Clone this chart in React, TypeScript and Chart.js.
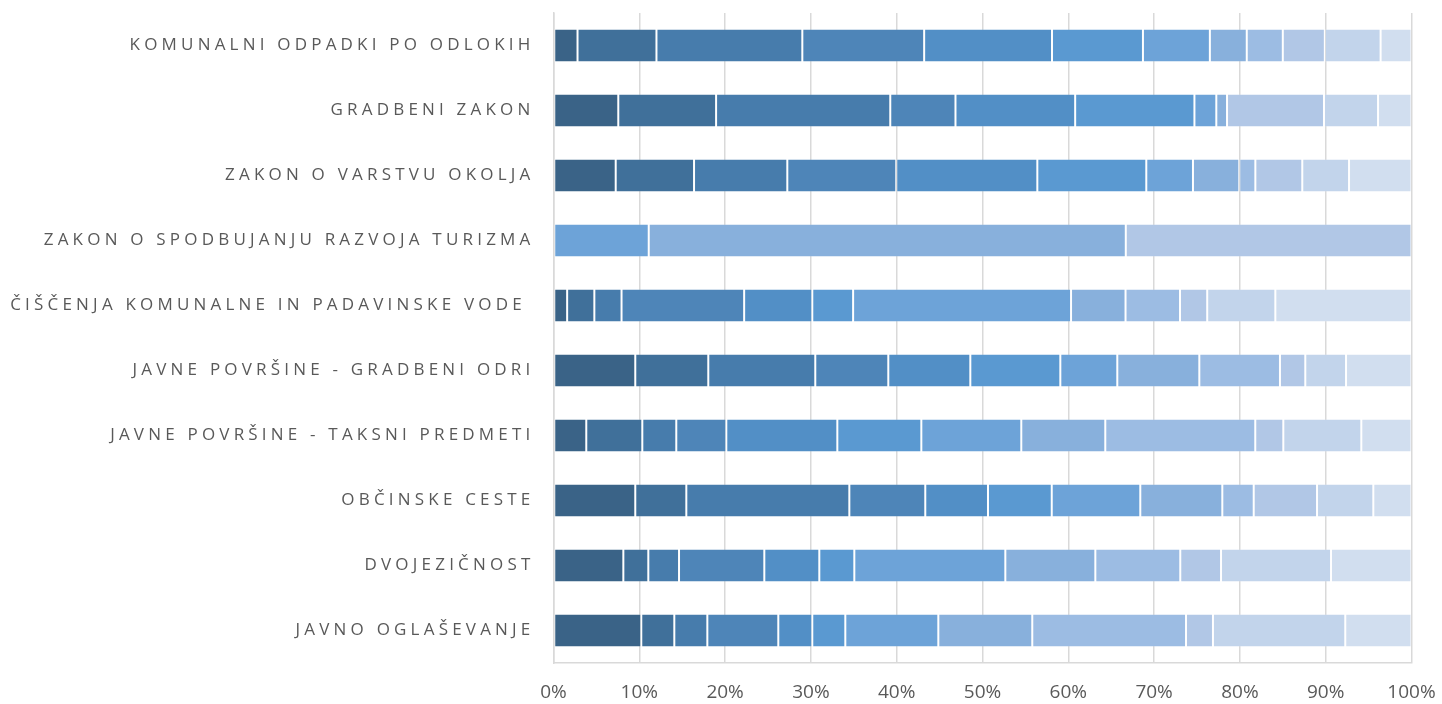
import React, { useEffect, useRef } from "react";
import { Chart, registerables } from "chart.js";

Chart.register(...registerables);

const categories = [
  "KOMUNALNI ODPADKI PO ODLOKIH",
  "GRADBENI ZAKON",
  "ZAKON O VARSTVU OKOLJA",
  "ZAKON O SPODBUJANJU RAZVOJA TURIZMA",
  "ČIŠČENJA KOMUNALNE IN PADAVINSKE VODE ",
  "JAVNE POVRŠINE - GRADBENI ODRI",
  "JAVNE POVRŠINE - TAKSNI PREDMETI",
  "OBČINSKE CESTE",
  "DVOJEZIČNOST",
  "JAVNO OGLAŠEVANJE",
];

// percentage share of each series per category (top to bottom)
const series1 = [2.8, 7.55, 7.25, 0, 1.59, 9.53, 3.82, 9.53, 8.14, 10.23];
const series2 = [9.2, 11.4, 9.13, 0, 3.17, 8.51, 6.53, 5.95, 2.91, 3.85];
const series3 = [17.0, 20.3, 10.87, 0, 3.17, 12.47, 3.96, 19.0, 3.58, 3.85];
const series4 = [14.2, 7.6, 12.7, 0, 14.29, 8.51, 5.83, 8.85, 9.94, 8.27];
const series5 = [14.9, 13.95, 16.44, 0, 7.94, 9.56, 12.94, 7.31, 6.41, 3.96];
const series6 = [10.6, 13.9, 12.7, 0, 4.76, 10.49, 9.79, 7.43, 4.08, 3.85];
const series7 = [7.8, 2.55, 5.44, 11.1, 25.4, 6.64, 11.65, 10.32, 17.6, 10.84];
const series8 = [4.3, 1.25, 5.4, 55.6, 6.35, 9.56, 9.79, 9.56, 10.49, 10.95];
const series9 = [4.2, 0, 1.87, 0, 6.35, 9.4, 17.48, 3.66, 9.9, 17.92];
const series10 = [4.9, 11.3, 5.47, 33.3, 3.17, 2.95, 3.27, 7.38, 4.75, 3.14];
const series11 = [6.5, 6.3, 5.45, 0, 7.94, 4.75, 9.09, 6.56, 12.82, 15.42];
const series12 = [3.6, 3.9, 7.28, 0, 15.87, 7.63, 5.85, 4.45, 9.38, 7.72];

const seriesNames = ["1", "2", "3", "4", "5", "6", "7", "8", "9", "10", "11", "12"];
const seriesValues = [
  series1, series2, series3, series4, series5, series6,
  series7, series8, series9, series10, series11, series12,
];
const xTickLabels = ["0%", "10%", "20%", "30%", "40%", "50%", "60%", "70%", "80%", "90%", "100%"];

const colors = [
  "#3A6387", "#40709A", "#477CAC", "#4E85B8", "#528FC6", "#5A99D1",
  "#6DA3D8", "#88B0DC", "#9CBCE3", "#B1C7E6", "#C2D4EB", "#D1DEEF",
];

const FONT = "'Open Sans', 'Liberation Sans', sans-serif";
const Y_SPACING = "4.2px";

const letterSpacingPlugin = {
  id: "ySpacing",
  afterUpdate(chart: any) {
    const s = chart.scales.y;
    if (s && !s._lsPatched) {
      const orig = s.drawLabels.bind(s);
      s.drawLabels = (ca: any) => {
        const ctx = chart.ctx as any;
        ctx.save();
        ctx.letterSpacing = Y_SPACING;
        orig(ca);
        ctx.restore();
      };
      s._lsPatched = true;
    }
  },
};

export default function App() {
  const ref = useRef<HTMLCanvasElement | null>(null);
  useEffect(() => {
    if (!ref.current) return;
    const chart = new Chart(ref.current, {
      type: "bar",
      data: {
        labels: categories,
        datasets: seriesValues.map((vals, i) => ({
          label: seriesNames[i],
          data: vals,
          backgroundColor: colors[i],
          borderColor: "rgba(255,255,255,0.16)",
          borderWidth: (c: any) => (c.raw === 0 ? 0 : 1),
          borderSkipped: false,
          categoryPercentage: 0.8,
          barPercentage: 0.64,
        })),
      },
      options: {
        indexAxis: "y",
        animation: false,
        responsive: true,
        maintainAspectRatio: false,
        layout: { padding: { top: 13, right: 30.5, left: 0, bottom: 0 } },
        plugins: { legend: { display: false }, tooltip: { enabled: false } },
        scales: {
          x: {
            stacked: true,
            min: 0,
            max: 100,
            afterFit: (s: any) => {
              s.height = 41;
              s.paddingLeft = 0;
              s.paddingRight = 0;
            },
            afterBuildTicks: (s: any) => {
              s.ticks = xTickLabels.map((_, i) => ({ value: i * 10 }));
            },
            grid: { color: "#D9D9D9", lineWidth: 1.5, drawTicks: false },
            border: { display: true, color: "#D9D9D9", width: 1.5 },
            ticks: {
              padding: 18,
              color: "#595959",
              font: { family: FONT, size: 19 },
              callback: (_v: any, i: number) => xTickLabels[i],
            },
          },
          y: {
            stacked: true,
            afterFit: (s: any) => {
              s.width = 553.5;
              s.paddingTop = 0;
              s.paddingBottom = 0;
            },
            grid: { display: false, drawTicks: false },
            border: { display: true, color: "#D9D9D9", width: 1.5 },
            ticks: {
              padding: 19,
              color: "#595959",
              font: { family: FONT, size: 17 },
              autoSkip: false,
            },
          },
        },
      },
      plugins: [letterSpacingPlugin],
    });
    return () => chart.destroy();
  }, []);
  return (
    <div style={{ position: "fixed", left: 0, top: 0, width: 1442, height: 704, background: "#fff" }}>
      <canvas ref={ref} />
    </div>
  );
}
